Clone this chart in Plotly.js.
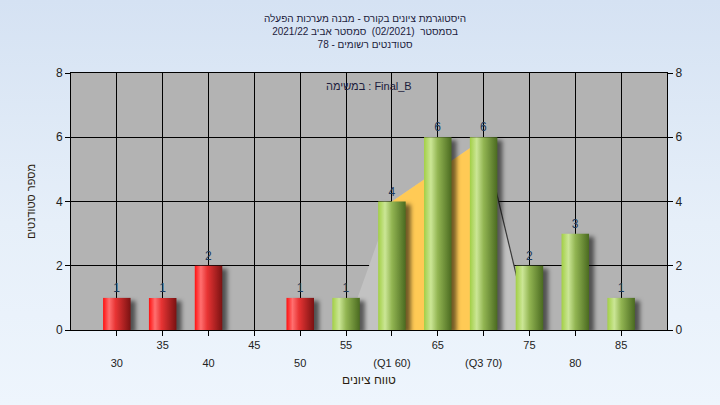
<!DOCTYPE html>
<html>
<head>
<meta charset="utf-8">
<script src="https://cdn.plot.ly/plotly-3.0.1.min.js"></script>
<style>
  html, body { margin: 0; padding: 0; }
  body { width: 720px; height: 405px; background: linear-gradient(to bottom, #d5e2f3 0%, #e6eff9 55%, #eef5fd 100%); }
  #chart { width: 720px; height: 405px; }
  #chart .barlayer .trace.bars:nth-child(1) path { fill: url(#gRed) !important; }
  #chart .barlayer .trace.bars:nth-child(2) path { fill: url(#gGreen) !important; }
  #chart .barlayer .trace.bars path { filter: drop-shadow(5px 3px 2px rgba(0,0,0,0.55)); }
</style>
</head>
<body>
<svg width="0" height="0" style="position:absolute">
  <defs>
    <linearGradient id="gRed" x1="0" y1="0" x2="1" y2="0">
      <stop offset="0" stop-color="#ff1010"/>
      <stop offset="0.22" stop-color="#ff7070"/>
      <stop offset="0.45" stop-color="#e83434"/>
      <stop offset="1" stop-color="#7a1212"/>
    </linearGradient>
    <linearGradient id="gGreen" x1="0" y1="0" x2="1" y2="0">
      <stop offset="0" stop-color="#a2cf45"/>
      <stop offset="0.25" stop-color="#cbe696"/>
      <stop offset="0.5" stop-color="#92b552"/>
      <stop offset="1" stop-color="#4a6a20"/>
    </linearGradient>
  </defs>
</svg>
<div id="chart"></div>
<script>
// ---- data ----
const grades = [30, 35, 40, 45, 50, 55, 60, 65, 70, 75, 80, 85];
const counts = [1, 1, 2, 0, 1, 1, 4, 6, 6, 2, 3, 1];
const tickLabels = ["30", "35", "40", "45", "50", "55", "(Q1 60)", "65", "(Q3 70)", "75", "80", "85"];
const passGrade = 55;
const q1 = 60;
const q3 = 70;
const curveX = [55, 60, 70, 75];
const curveY = [0, 4, 5.95, 0];
const titleLines = [
  "היסטוגרמת ציונים בקורס - מבנה מערכות הפעלה",
  "בסמסטר  (02/2021)  סמסטר אביב 2021/22",
  "סטודנטים רשומים - 78"
];
const noteText = "במשימה : Final_B";
const xTitle = "טווח ציונים";
const yTitle = "מספר סטודנטים";

const FONT = "Liberation Sans, Arial, DejaVu Sans, sans-serif";

// split bars
const failX = [], failY = [], passX = [], passY = [];
grades.forEach((g, i) => {
  if (g < passGrade) { failX.push(g); failY.push(counts[i]); }
  else { passX.push(g); passY.push(counts[i]); }
});
const lbl = arr => arr.map(v => v > 0 ? String(v) : "");

const pathOf = (xs, ys, close) =>
  xs.map((x, i) => (i ? "L" : "M") + x + "," + ys[i]).join(" ") + (close ? " Z" : "");

// orange (Q1..Q3) part of the curve
const orX = [q1], orY = [0];
curveX.forEach((x, i) => { if (x >= q1 && x <= q3) { orX.push(x); orY.push(curveY[i]); } });
orX.push(q3); orY.push(0);

// right edge segment of the curve (after Q3)
const edgeX = [], edgeY = [];
curveX.forEach((x, i) => { if (x >= q3) { edgeX.push(x); edgeY.push(curveY[i]); } });

const row1Text = tickLabels.map((t, i) => i % 2 === 1 ? t : "");
const row2Vals = grades.filter((g, i) => i % 2 === 0);
const row2Text = tickLabels.filter((t, i) => i % 2 === 0);

const traces = [
  { type: "bar", x: failX, y: failY, width: 3, marker: { color: "#d02020", line: { width: 0 } },
    text: lbl(failY), textposition: "outside", cliponaxis: false,
    textfont: { family: FONT, size: 12, color: "#1c3a5c" }, showlegend: false },
  { type: "bar", x: passX, y: passY, width: 3, marker: { color: "#90b550", line: { width: 0 } },
    text: lbl(passY), textposition: "outside", cliponaxis: false,
    textfont: { family: FONT, size: 12, color: "#1c3a5c" }, showlegend: false },
  { type: "scatter", x: [grades[0]], y: [0], xaxis: "x2", yaxis: "y2", mode: "markers",
    marker: { opacity: 0 }, hoverinfo: "skip", showlegend: false }
];

const layout = {
  width: 720, height: 405,
  paper_bgcolor: "rgba(0,0,0,0)",
  plot_bgcolor: "#b3b3b3",
  margin: { l: 71, r: 53, t: 73, b: 75 },
  font: { family: FONT, color: "#222" },
  barmode: "overlay",
  title: {
    text: titleLines.join("<br>"),
    font: { family: FONT, size: 10, color: "#1c1c3c" },
    x: 0.507, xanchor: "center", xref: "container",
    y: 0.945, yanchor: "top", yref: "container"
  },
  xaxis: {
    range: [25, 90], tickvals: grades, ticktext: row1Text,
    ticks: "outside", ticklen: 5, tickcolor: "#000", tickwidth: 1,
    showgrid: true, gridcolor: "#000", gridwidth: 1,
    showline: true, linecolor: "#000", linewidth: 1, mirror: true,
    zeroline: false, tickfont: { family: FONT, size: 11, color: "#222" },
    title: { text: xTitle, font: { family: FONT, size: 12, color: "#2a1c10" }, standoff: 25 },
    automargin: false
  },
  xaxis2: {
    overlaying: "x", anchor: "y", side: "bottom", range: [25, 90],
    tickvals: row2Vals, ticktext: row2Text, ticks: "", showgrid: false,
    showline: false, zeroline: false, ticklabelstandoff: 25,
    tickfont: { family: FONT, size: 11, color: "#222" }, automargin: false
  },
  yaxis: {
    range: [0, 8], dtick: 2, tick0: 0,
    ticks: "outside", ticklen: 5, tickcolor: "#000",
    showgrid: true, gridcolor: "#000", gridwidth: 1,
    showline: true, linecolor: "#000", linewidth: 1, mirror: true,
    zeroline: false, tickfont: { family: FONT, size: 12, color: "#222" },
    title: { text: yTitle, font: { family: FONT, size: 11, color: "#2a1c10" }, standoff: 18 },
    automargin: false
  },
  yaxis2: {
    overlaying: "y", side: "right", anchor: "x", range: [0, 8], dtick: 2, tick0: 0,
    ticks: "outside", ticklen: 5, tickcolor: "#000", showgrid: false, zeroline: false,
    tickfont: { family: FONT, size: 12, color: "#222" }, automargin: false
  },
  shapes: [
    { type: "path", xref: "x", yref: "y", layer: "between", path: pathOf(curveX, curveY, true),
      fillcolor: "#c2c2c2", line: { width: 0 } },
    { type: "path", xref: "x", yref: "y", layer: "between", path: pathOf(orX, orY, true),
      fillcolor: "#ffca55", line: { width: 0 } },
    { type: "path", xref: "x", yref: "y", layer: "between", path: pathOf(edgeX, edgeY, false),
      line: { width: 1.2, color: "#3a3a3a" } }
  ],
  annotations: [{
    text: noteText, xref: "paper", yref: "paper", x: 0.5, y: 0.95,
    xanchor: "center", yanchor: "middle", showarrow: false,
    font: { family: FONT, size: 11, color: "#1c1c3c" }
  }]
};

Plotly.newPlot("chart", traces, layout, { staticPlot: true, displayModeBar: false });
</script>
</body>
</html>
